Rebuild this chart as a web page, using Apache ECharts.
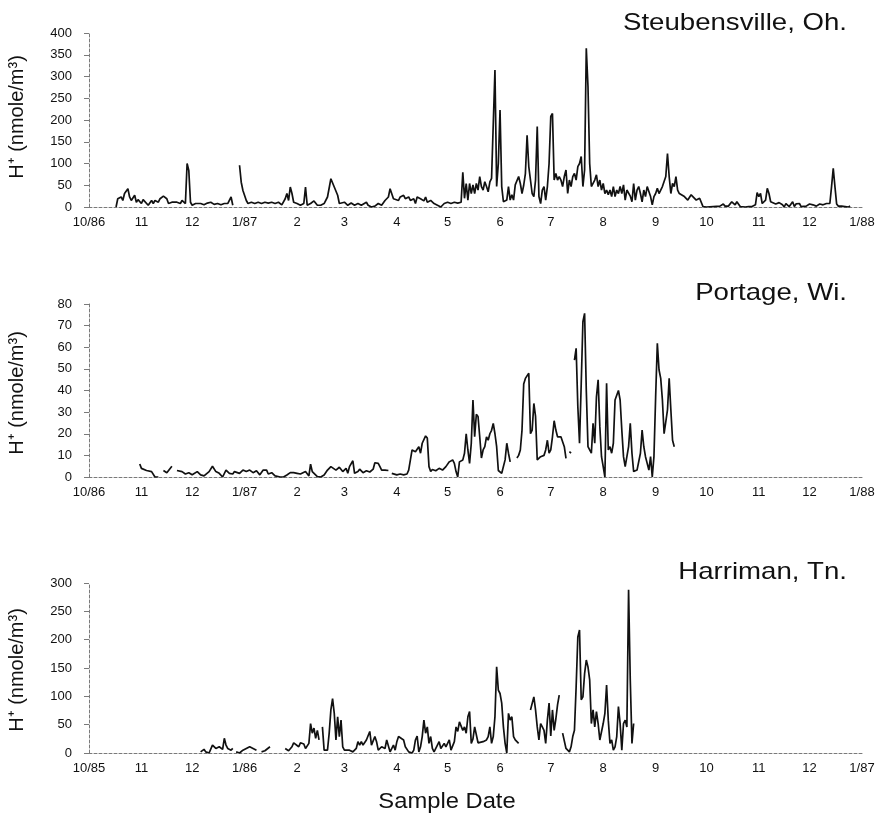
<!DOCTYPE html>
<html><head><meta charset="utf-8">
<script src="https://cdn.jsdelivr.net/npm/echarts@6/dist/echarts.min.js"></script>
<style>html,body{margin:0;padding:0;background:#fff}#c{width:878px;height:825px}</style>
</head><body><div id="c"></div>
<script>
// Month starts in days from the first 1 October of each panel
const monthStarts = [0,31,61,92,123,151,182,212,243,273,304,335,365,396,426,457];
const ticks8687 = ['10/86','11','12','1/87','2','3','4','5','6','7','8','9','10','11','12','1/88'];
const ticks8586 = ['10/85','11','12','1/86','2','3','4','5','6','7','8','9','10','11','12','1/87'];
const titles = ['Steubensville, Oh.', 'Portage, Wi.', 'Harriman, Tn.'];
const yNameText = 'H\u207A (nmole/m\u00B3)';
const xNameText = 'Sample Date';

// Steubensville (days since 1 Oct 1986, H+ nmole/m3)
const steubDays = [16,17,19,20,21,23,24,25,27,28,29,31,32,33,35,37,38,39,41,42,44,46,47,49,50,52,54,55,57,58,59,60,61,63,64,66,68,70,72,74,76,78,80,82,84,85,87,89,90,91,92,93,94,96,98,100,102,104,106,108,110,112,114,116,117,118,119,120,121,123,125,127,128,129,130,131,133,135,137,139,141,143,144,145,146,147,148,149,151,153,155,157,159,161,164,165,167,169,171,173,175,177,178,180,181,183,184,186,187,189,190,192,193,194,196,198,199,200,202,204,206,208,209,210,212,214,216,218,220,221,222,223,224,225,226,227,228,229,230,231,232,233,234,235,236,237,238,239,240,241,242,243,244,245,246,247,248,249,250,251,252,253,254,255,256,257,258,259,260,261,262,263,264,265,266,267,268,269,270,271,272,273,274,275,276,277,278,279,280,281,282,283,284,285,286,287,288,289,290,291,292,293,294,295,296,297,298,299,300,301,302,303,304,305,306,307,308,309,310,311,312,313,314,315,316,317,318,319,320,321,322,323,324,325,326,327,328,329,330,331,332,333,334,335,336,337,338,339,340,341,342,343,344,345,346,347,348,349,350,352,354,356,357,359,361,363,365,369,373,375,376,378,380,382,383,385,388,390,392,394,395,396,397,398,400,401,402,403,404,406,408,410,411,412,414,416,417,418,420,421,422,424,426,428,430,432,434,436,437,438,439,440,441,442,443,444,445,447,449,450];
const steubVals = [0,19,23,15,31,42,23,15,27,11,17,8,17,15,4,15,8,15,11,19,25,19,8,11,8,11,8,15,8,100,84,11,4,8,4,8,5,9,11,6,8,5,8,8,23,4,null,96,57,38,34,15,8,11,8,11,8,11,9,11,8,11,5,19,31,15,46,31,11,8,4,8,46,4,4,8,14,4,4,8,23,65,69,46,50,27,8,6,11,4,9,4,8,4,11,4,0,2,8,4,15,23,42,19,23,15,23,27,19,23,15,19,8,23,19,14,23,11,15,8,4,0,4,8,11,8,11,9,11,80,20,54,16,54,31,51,31,54,39,70,47,39,58,47,35,58,66,70,315,47,100,223,47,12,12,16,47,16,28,16,51,47,70,54,31,50,77,165,93,97,31,24,62,185,24,8,39,47,16,47,100,208,215,62,77,62,70,62,47,70,85,31,62,47,70,77,62,93,100,116,47,85,365,277,100,47,43,62,74,47,62,39,54,31,39,28,39,24,47,24,39,31,47,31,51,16,39,39,25,12,54,16,39,47,31,12,39,24,47,51,24,5,24,31,43,31,39,47,51,70,123,70,31,54,47,70,39,31,28,24,16,28,24,16,20,1,0,1,2,7,2,2,12,5,12,1,0,1,1,5,33,24,31,8,16,43,31,12,10,7,10,5,0,8,1,12,1,7,8,1,5,2,7,5,2,7,5,8,12,8,47,89,47,7,2,5,2,1,0,2];

// Portage (days since 1 Oct 1986)
const portDays = [30,31,34,37,39,41,42,44,46,49,50,52,55,57,59,61,64,66,68,71,73,75,77,79,81,82,83,85,86,89,91,93,95,97,99,101,103,105,106,108,110,113,115,117,119,121,123,125,126,128,130,131,132,133,135,137,139,141,143,144,146,148,150,152,153,154,156,157,159,160,162,164,166,168,169,171,172,173,175,177,178,179,180,182,184,186,188,189,191,192,193,195,196,197,199,200,201,202,203,205,207,209,211,213,215,216,217,218,219,221,222,223,224,225,226,227,228,229,230,231,232,233,234,235,236,237,238,239,240,241,242,243,244,245,246,247,248,249,251,253,254,255,256,257,258,260,261,262,263,264,265,266,267,268,269,270,271,272,273,274,275,276,277,278,279,280,281,282,283,284,285,286,287,288,289,290,291,292,293,294,295,296,297,298,299,300,301,302,303,304,305,306,307,308,309,310,311,312,313,314,315,316,317,318,319,320,321,322,323,324,326,327,328,329,330,331,332,333,334,335,336,337,338,339,340,341,342,343,344,345,346];
const portVals = [6,4,3,2.5,0,0,null,3,2,5,null,3,2.5,1.4,2,1,2.5,1,0.5,2.5,5,2.5,1.7,0,3.2,3.5,1.7,1.4,2.5,1.7,3.2,2.5,3.2,2,2.9,1,3.2,3.2,1.4,2,0.5,0,0,0.9,2,2,1.7,1.4,0.5,2.5,0.5,5.9,2.5,3.2,0.2,0,0.9,3.2,4.8,4,3.2,4.5,2.5,4,1.7,4.8,7.5,1.7,2.5,3.6,2,2.9,2.3,3.6,6.6,6.3,4.8,3.2,3.2,3,null,1.7,1.4,1,1.4,1,1.4,3.2,12.5,13,11.7,14,11,15.6,19,18,4.8,2.5,3.5,2.9,4,3.2,4.8,7,7.9,6.3,2.5,0,7,7.9,11,20,12.5,6.3,15.5,35.6,18.6,29,28,18.6,8.8,12.5,14,18.6,17,20,21.6,24.8,20,14,3,2.5,1.7,1,7.9,15.6,11,7,null,8.8,10,12.5,21.7,43,45.6,48,20,21.7,34,28,7.9,8.6,9.4,9.4,10,12.5,17,11,12.5,18.6,26,21.7,18.6,17.8,18.6,17.8,14,8.6,null,11.7,11,null,54,59.5,32.5,15.6,43,71.8,75.7,40,14,12.5,11,24.8,15.6,37,44.9,23.4,9.4,4.8,0,43.3,12.5,14,11,15.6,35.6,36.4,40,35.6,21.7,9.4,4.8,4.8,14,24.8,11,2.5,1.7,3.2,11,21.7,14,9.4,6.3,3.2,9.4,0,9.4,37,61.8,49.6,45.6,35.6,20,20,31,45.6,31,17,14];

// Harriman (days since 1 Oct 1985)
const harrDays = [66,68,69,71,73,75,77,79,80,81,82,83,84,85,86,87,89,91,93,95,97,99,100,102,104,105,107,110,116,117,118,120,121,122,124,125,127,128,129,130,131,132,133,134,135,136,137,138,139,140,141,142,143,144,145,146,147,148,149,150,151,152,154,156,157,158,159,160,161,162,163,164,166,167,168,169,170,171,172,173,175,176,177,178,180,181,182,183,184,186,187,188,189,190,191,192,193,194,195,196,197,198,199,200,201,202,203,204,205,207,208,209,210,211,213,214,215,216,217,218,219,220,221,222,223,224,225,226,227,228,229,230,231,233,235,236,237,238,239,240,241,242,243,244,245,246,247,248,249,250,251,252,253,254,257,261,262,263,264,265,266,267,268,269,270,271,272,273,274,275,276,277,278,279,280,282,284,285,286,287,288,289,290,291,292,293,294,295,296,297,298,299,300,301,302,303,304,305,306,307,308,309,310,311,312,313,314,315,316,317,318,319,320,321,322];
const harrVals = [2,6.5,2,0,14,8,11,6.5,26,14,8,11,5,8,null,2,0,5,8,11,8,5,null,2,4,5,11,null,8,11,4,11,18,16,11,18,16,8,11,17,52,35,44,26,40,23,null,46,5,3,5,35,76,96,70,23,64,29,58,11,5,7,5,2,0,8,20,14,20,14,11,23,38,14,11,29,20,5,5,11,8,23,20,2,14,5,20,29,26,23,11,11,2,0,0,5,23,30,2,11,29,58,35,46,17,29,8,2,5,20,8,5,17,11,23,5,8,20,46,38,55,58,40,46,35,64,73,17,25,46,45,18,15,20,23,29,46,17,29,64,152,111,105,88,46,17,0,70,58,64,29,23,20,17,null,76,73,99,76,46,23,52,46,40,17,58,88,30,76,40,60,85,102,null,35,8,2,11,29,40,117,205,217,94,99,140,164,152,129,52,76,46,73,52,23,20,52,70,120,58,17,23,5,11,29,82,52,5,52,58,46,288,129,17,52];

const yMax = [400, 80, 300];
const yStep = [50, 10, 50];

const grids = [
  {left: 89, right: 16, top: 33, height: 174},
  {left: 89, right: 16, top: 304, height: 173},
  {left: 89, right: 16, top: 583, height: 170}
];
const font = 'Liberation Sans, Arial, Helvetica, sans-serif';
const axisGrey = '#7a7a7a';

function pairs(days, vals) {
  return days.map((d, i) => [d, vals[i] === null ? '-' : vals[i]]);
}
function xAxisFor(i, labels) {
  return {
    type: 'value', gridIndex: i, min: 0, max: 457,
    axisLine: {show: true, onZero: false, lineStyle: {color: axisGrey, width: 1, type: [3, 2]}},
    axisTick: {show: false},
    splitLine: {show: false},
    axisLabel: {
      customValues: monthStarts,
      formatter: v => { const k = monthStarts.indexOf(v); return k >= 0 ? labels[k] : ''; },
      margin: 9, fontSize: 13, color: '#111', fontFamily: font
    }
  };
}
function yAxisFor(i) {
  return {
    type: 'value', gridIndex: i, min: 0, max: yMax[i], interval: yStep[i],
    axisLine: {show: true, lineStyle: {color: axisGrey, width: 1, type: [3, 2]}},
    axisTick: {show: true, length: 5, lineStyle: {color: axisGrey}},
    splitLine: {show: false},
    axisLabel: {margin: 17, fontSize: 13, color: '#111', fontFamily: font}
  };
}
function seriesFor(i, data) {
  return {
    type: 'line', xAxisIndex: i, yAxisIndex: i, data: data,
    symbol: 'none', showSymbol: false, connectNulls: false,
    lineStyle: {color: '#111', width: 1.7}, z: 5, silent: true
  };
}
function txt(x, y, text, size, align, rot, sx) {
  return {
    type: 'text', x: x, y: y, rotation: rot || 0, scaleX: sx || 1, silent: true,
    style: {text: text, font: size + 'px ' + font, fill: '#111', textAlign: align, textVerticalAlign: 'middle'}
  };
}

const chart = echarts.init(document.getElementById('c'), null, {renderer: 'canvas'});
chart.setOption({
  animation: false,
  backgroundColor: '#fff',
  grid: grids,
  xAxis: [xAxisFor(0, ticks8687), xAxisFor(1, ticks8687), xAxisFor(2, ticks8586)],
  yAxis: [yAxisFor(0), yAxisFor(1), yAxisFor(2)],
  series: [
    seriesFor(0, pairs(steubDays, steubVals)),
    seriesFor(1, pairs(portDays, portVals)),
    seriesFor(2, pairs(harrDays, harrVals))
  ],
  graphic: [
    txt(847, 23, titles[0], 24, 'right', 0, 1.15),
    txt(847, 293, titles[1], 24, 'right', 0, 1.15),
    txt(847, 572, titles[2], 24, 'right', 0, 1.15),
    txt(17, 117, yNameText, 20, 'center', Math.PI / 2),
    txt(17, 393, yNameText, 20, 'center', Math.PI / 2),
    txt(17, 670, yNameText, 20, 'center', Math.PI / 2),
    txt(447, 802, xNameText, 22, 'center', 0, 1.08)
  ]
});
</script>
</body></html>
